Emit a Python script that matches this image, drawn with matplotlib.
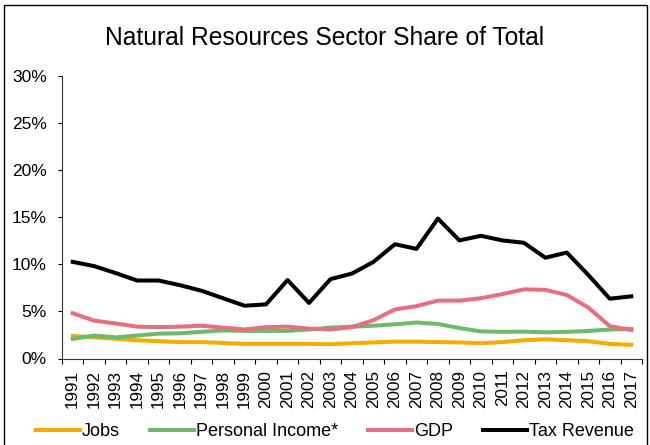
import numpy as np
import matplotlib.pyplot as plt
from matplotlib.patches import Rectangle
from matplotlib.ticker import FuncFormatter

plt.rcParams['font.family'] = ['Liberation Sans', 'DejaVu Sans']

years = list(range(1991, 2018))
jobs = [2.4, 2.24, 2.09, 1.94, 1.84, 1.74, 1.74, 1.65, 1.55, 1.55, 1.55, 1.55, 1.52, 1.62,
        1.71, 1.79, 1.79, 1.74, 1.71, 1.62, 1.74, 1.94, 2.04, 1.94, 1.84, 1.55, 1.45]
income = [2.08, 2.44, 2.24, 2.44, 2.64, 2.68, 2.83, 2.98, 2.93, 2.93, 2.93, 3.08, 3.28, 3.38,
          3.48, 3.63, 3.82, 3.67, 3.23, 2.88, 2.83, 2.85, 2.78, 2.83, 2.93, 3.08, 3.13]
gdp = [4.81, 4.02, 3.72, 3.38, 3.33, 3.38, 3.48, 3.28, 3.08, 3.33, 3.38, 3.18, 3.08, 3.33,
       4.07, 5.21, 5.56, 6.15, 6.15, 6.4, 6.84, 7.34, 7.29, 6.74, 5.41, 3.43, 3.03]
tax = [10.26, 9.81, 9.07, 8.28, 8.28, 7.78, 7.19, 6.4, 5.6, 5.75, 8.33, 5.9, 8.43, 9.02,
       10.26, 12.14, 11.64, 14.86, 12.54, 13.03, 12.54, 12.29, 10.7, 11.25, 8.87, 6.35, 6.6]

fig = plt.figure(figsize=(6.5, 4.45), dpi=100)
ax = fig.add_axes([62 / 650, 1 - 358.5 / 445, 580 / 650, 282.5 / 445])

x = np.arange(len(years))
lw = 2.9
ax.plot(x, jobs, color='#F2AE00', lw=lw, label='Jobs')
ax.plot(x, income, color='#6DBA6D', lw=lw, label='Personal Income*')
ax.plot(x, gdp, color='#E66F80', lw=lw, label='GDP')
ax.plot(x, tax, color='black', lw=lw, label='Tax Revenue')

ax.set_xlim(-0.5, len(years) - 0.5)
ax.set_ylim(0, 30)
ax.set_yticks(np.arange(0, 31, 5))
ax.yaxis.set_major_formatter(FuncFormatter(lambda v, p: f'{v:.0f}%'))
ax.tick_params(axis='y', labelsize=12.5, length=3, direction='out', pad=8)

ax.set_xticks(np.arange(-0.5, len(years), 1))
ax.set_xticklabels([])
ax.tick_params(axis='x', which='major', length=3.6, direction='out')
ax.set_xticks(x, minor=True)
ax.set_xticklabels([str(y) for y in years], minor=True, rotation=90, fontsize=12.3)
ax.tick_params(axis='x', which='minor', length=0, pad=8)

for s in ['top', 'right']:
    ax.spines[s].set_visible(False)
ax.spines['left'].set_color('#333333')
ax.spines['bottom'].set_color('#333333')

fig.text(0.5, 1 - 38 / 445, 'Natural Resources Sector Share of Total', ha='center', va='center', fontsize=17.7)

fig.legend(loc='center', bbox_to_anchor=(0.515, 1 - 432 / 445), ncol=4, frameon=False, fontsize=13,
           handlelength=2.44, handletextpad=0.1, columnspacing=1.67)

fig.patches.append(Rectangle((4 / 650, -0.01), 643 / 650, 1 - 5 / 445 + 0.01,
                             transform=fig.transFigure, fill=False, ec='black', lw=1))

fig.savefig('out.png', dpi=100)
